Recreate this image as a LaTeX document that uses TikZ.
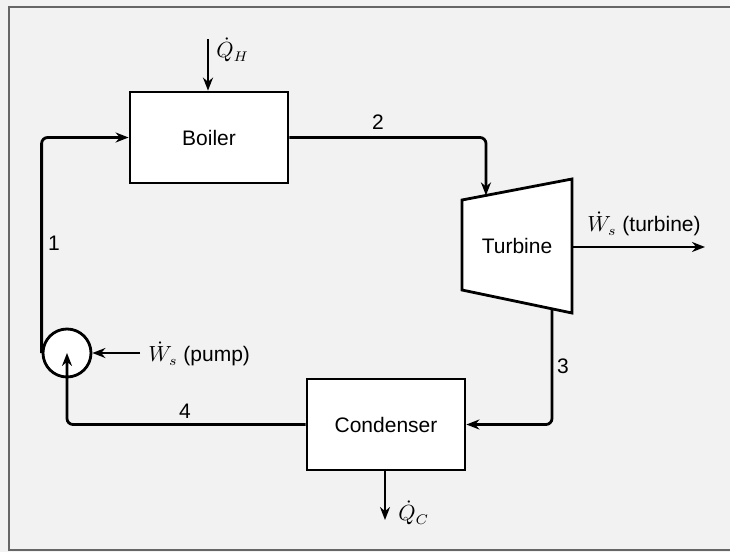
\documentclass[tikz,border=0pt]{standalone}
\usepackage{fontspec}
\setsansfont{Liberation Sans}
\usetikzlibrary{positioning,arrows.meta,calc}
\tikzset{
  unitbox/.style={draw,fill=white,line width=1.4pt,minimum width=79pt,minimum height=45.5pt,font=\sffamily\fontsize{10.5}{12}\selectfont},
  pumpnode/.style={draw,circle,fill=white,line width=1.4pt,minimum size=24pt,inner sep=0pt},
  flow/.style={line width=1.4pt,-{Stealth[length=6.5pt,width=5pt]},rounded corners=3pt},
  lbl/.style={font=\sffamily\fontsize{10.5}{12}\selectfont,inner sep=1pt},
}
\begin{document}
\begin{tikzpicture}[x=0.5pt,y=-0.5pt]
% background and frame
\useasboundingbox (0,0) rectangle (730,552);
\fill[black!5] (0,0) rectangle (730,552);
\draw[black!60,line width=0.9pt] (730,7) -- (9,7) -- (9,550) -- (730,550);

% components
\node[unitbox] (boiler) at (209,137.5) {Boiler};
\node[unitbox] (condenser) at (386,424.5) {Condenser};
\node[pumpnode] (pump) at (67,353) {};

% turbine
\coordinate (ttl) at (462,200);
\coordinate (ttr) at (572,179);
\coordinate (tbr) at (572,313);
\coordinate (tbl) at (462,290);
\draw[line width=1.4pt,fill=white,line join=miter] (ttl) -- (ttr) -- (tbr) -- (tbl) -- cycle;
\node[lbl] (turbine) at (517,246) {Turbine};
\coordinate (tin) at ($(ttl)!0.218!(ttr)$);
\coordinate (tout) at ($(tbl)!0.818!(tbr)$);
\coordinate (twork) at (572,247);

% heat and work
\coordinate (qh) at (208,39);
\coordinate (qc) at (385,520);
\coordinate (wt) at (705,247);
\coordinate (wp) at (140,353);
\draw[flow] (qh) -- (qh |- boiler.north);
\draw[flow] (qc |- condenser.south) -- (qc);
\draw[flow] (twork) -- (wt);
\draw[flow] (wp) -- (pump.east);

% cycle
\draw[flow] (pump.west) |- (boiler.west);
\draw[flow] (boiler.east) -| (tin);
\draw[flow] (tout) |- (condenser.east);
\draw[flow] (condenser.west) -| (pump.center);

% labels
\node[lbl] (n1) at (54,243) {1};
\node[lbl] (n2) at (378,122) {2};
\node[lbl] (n3) at (563,366) {3};
\node[lbl] (n4) at (185,411) {4};
\node[lbl,anchor=west] (lqh) at (214,50) {$\dot{Q}_H$};
\node[lbl,anchor=west] (lqc) at (396,513) {$\dot{Q}_C$};
\node[lbl] (lwt) at (644,224) {$\dot{W}_s$ (turbine)};
\node[lbl,anchor=west] (lwp) at (146,354) {$\dot{W}_s$ (pump)};
\end{tikzpicture}
\end{document}
